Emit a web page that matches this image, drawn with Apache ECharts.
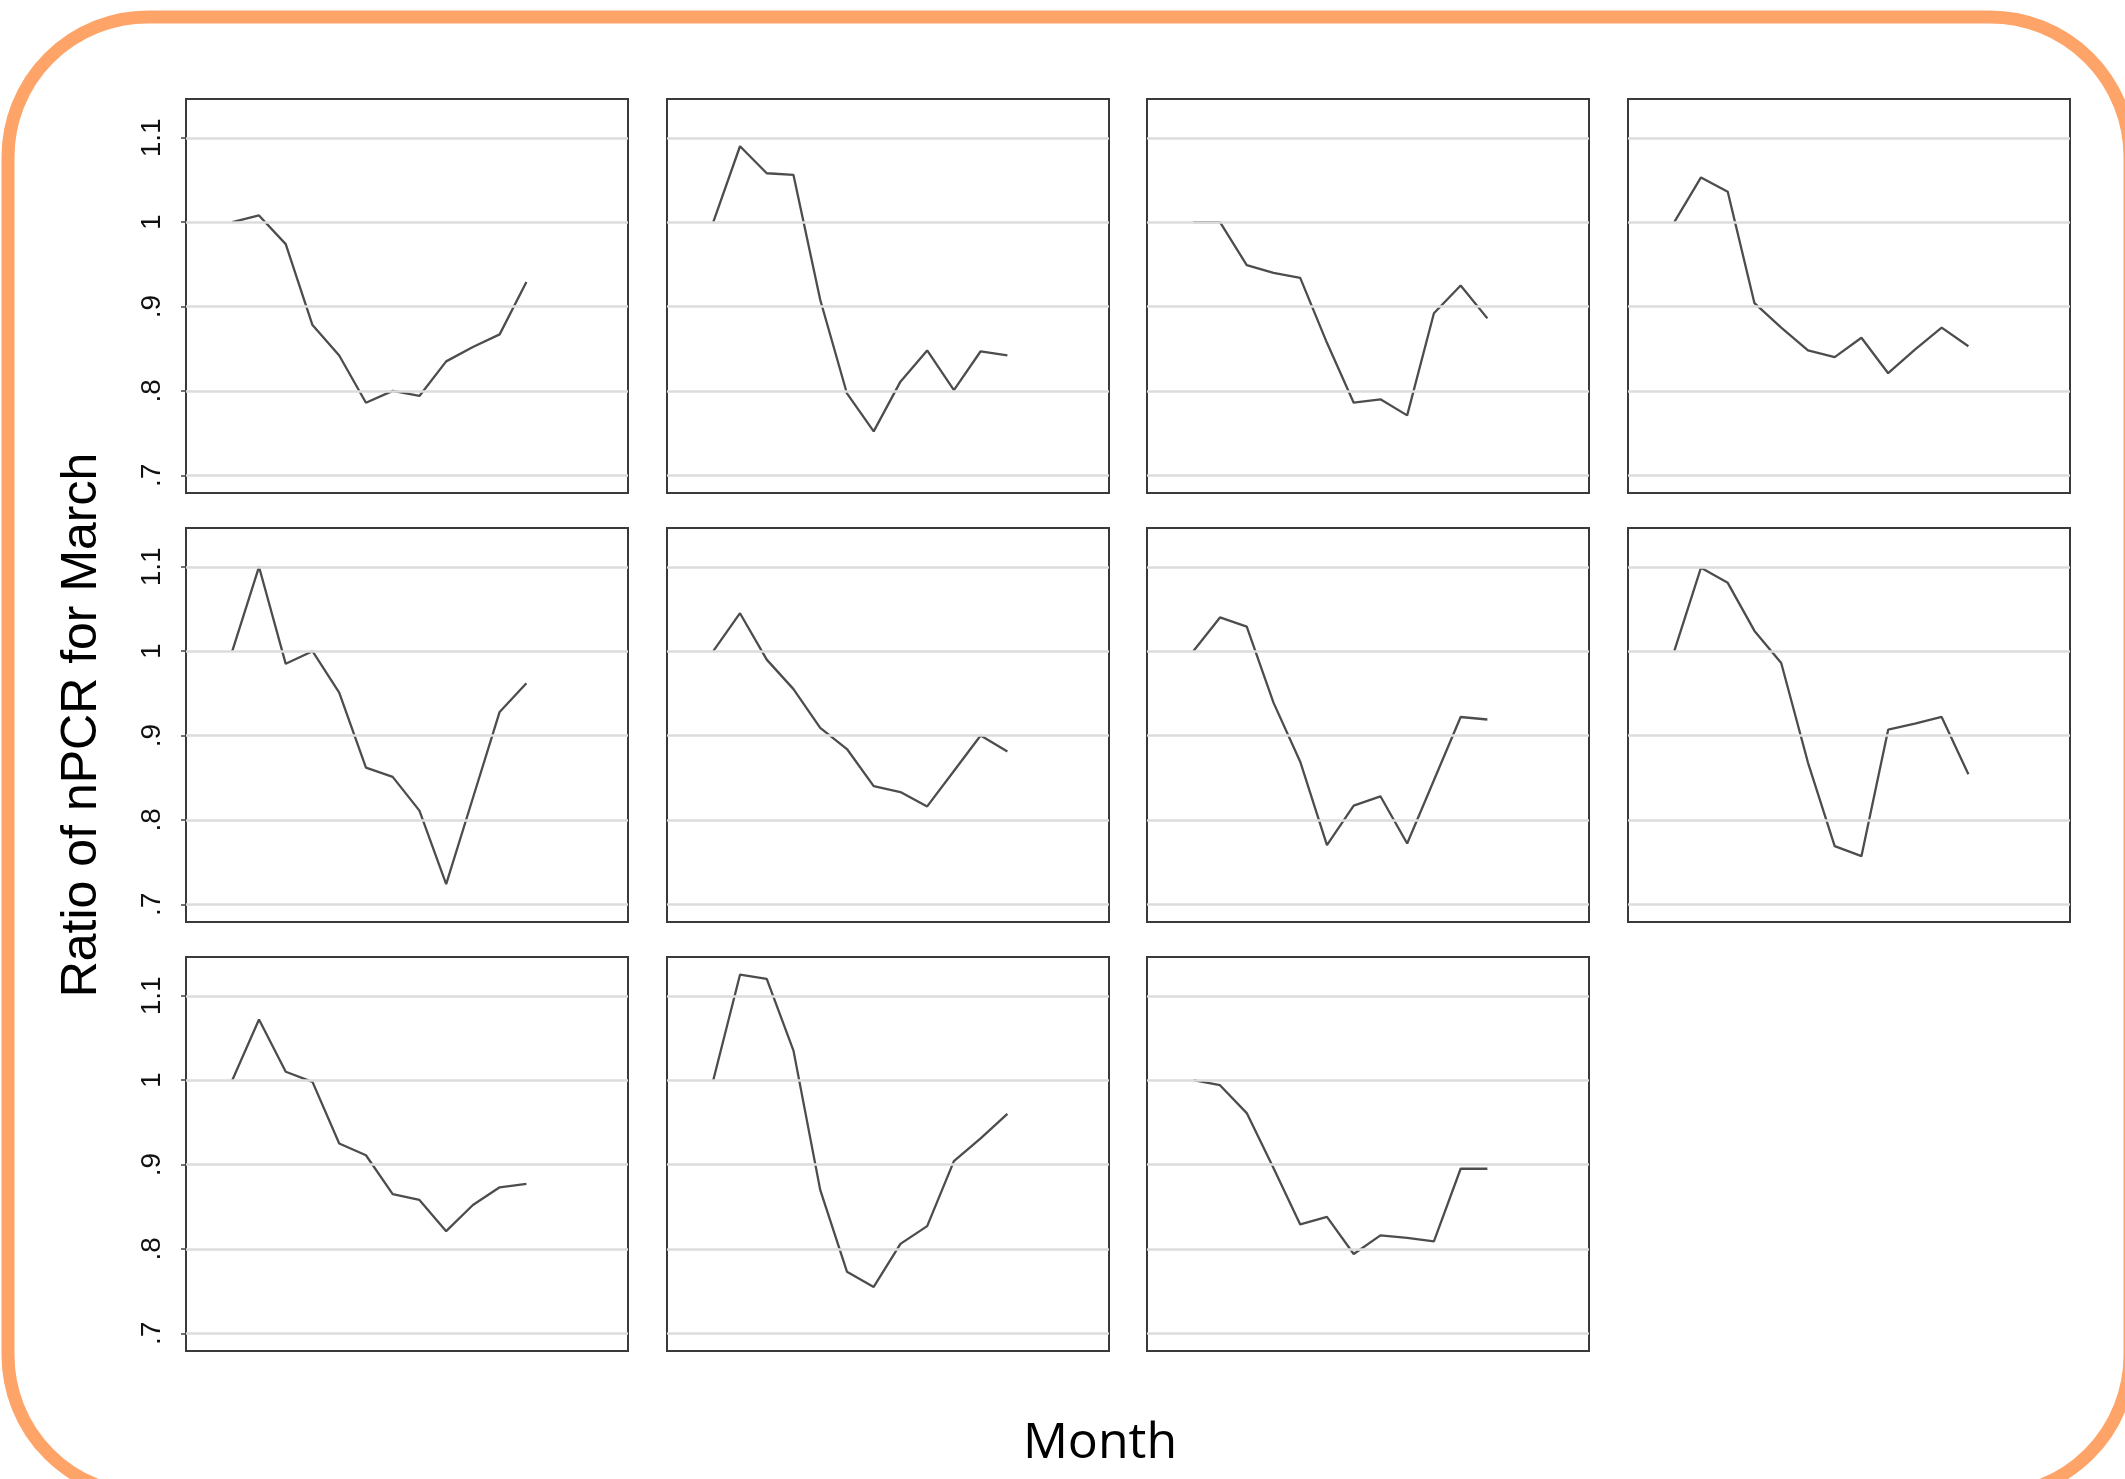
<!DOCTYPE html>
<html><head><meta charset="utf-8">
<script src="https://cdn.jsdelivr.net/npm/echarts@6.0.0/dist/echarts.min.js"></script>
<style>html,body{margin:0;padding:0;background:#fff}#c{width:2125px;height:1479px}</style>
</head><body><div id="c"></div>
<script>
// ---- data ----
const months = [3,4,5,6,7,8,9,10,11,12,13,14];
const yTicks = [0.7, 0.8, 0.9, 1.0, 1.1];
const yTickLabels = ['.7', '.8', '.9', '1', '1.1'];
const xTitle = 'Month';
const yTitle = 'Ratio of nPCR for March';

const panel1  = [1.000, 1.008, 0.974, 0.878, 0.842, 0.786, 0.800, 0.794, 0.835, 0.852, 0.867, 0.929];
const panel2  = [1.000, 1.090, 1.058, 1.056, 0.908, 0.797, 0.752, 0.811, 0.848, 0.801, 0.847, 0.842];
const panel3  = [1.000, 1.000, 0.949, 0.940, 0.934, 0.857, 0.786, 0.790, 0.771, 0.892, 0.925, 0.886];
const panel4  = [1.000, 1.053, 1.036, 0.904, 0.875, 0.848, 0.840, 0.863, 0.821, 0.849, 0.875, 0.853];
const panel5  = [1.000, 1.100, 0.985, 1.000, 0.951, 0.862, 0.851, 0.811, 0.724, 0.826, 0.928, 0.962];
const panel6  = [1.000, 1.045, 0.990, 0.955, 0.909, 0.884, 0.840, 0.833, 0.816, 0.858, 0.900, 0.881];
const panel7  = [1.000, 1.040, 1.029, 0.939, 0.869, 0.770, 0.817, 0.828, 0.772, 0.847, 0.922, 0.919];
const panel8  = [1.000, 1.099, 1.081, 1.024, 0.986, 0.868, 0.769, 0.757, 0.907, 0.914, 0.922, 0.854];
const panel9  = [1.000, 1.072, 1.010, 0.998, 0.925, 0.911, 0.865, 0.858, 0.821, 0.852, 0.873, 0.877];
const panel10 = [1.000, 1.125, 1.120, 1.035, 0.870, 0.773, 0.755, 0.806, 0.827, 0.904, 0.931, 0.960];
const panel11 = [1.000, 0.994, 0.961, 0.896, 0.829, 0.838, 0.794, 0.816, 0.813, 0.809, 0.895, 0.895];

const panels = [panel1, panel2, panel3, panel4, panel5, panel6, panel7, panel8, panel9, panel10, panel11];

// ---- layout ----
const colLeft = [186, 667, 1147, 1628];
const rowTop = [99, 528, 957];
const W = 442, H = 394;
const X_MIN = 1.27, X_MAX = 17.8;
const Y_MIN = 0.679, Y_MAX = 1.146;

const grids = [], xAxes = [], yAxes = [], series = [];
panels.forEach((vals, i) => {
  const r = Math.floor(i / 4), c = i % 4;
  grids.push({left: colLeft[c], top: rowTop[r], width: W, height: H, show: true,
    borderColor: '#3a3a3a', borderWidth: 2, backgroundColor: 'transparent', containLabel: false});
  xAxes.push({type: 'value', gridIndex: i, min: X_MIN, max: X_MAX,
    axisLine: {show: false}, axisTick: {show: false}, axisLabel: {show: false}, splitLine: {show: false}});
  const first = c === 0;
  yAxes.push({type: 'value', gridIndex: i, min: Y_MIN, max: Y_MAX,
    axisLine: {show: false}, splitLine: {show: false},
    axisTick: {show: first, length: 5, customValues: yTicks, lineStyle: {color: '#444', width: 1.5}},
    axisLabel: {show: first, customValues: yTicks, rotate: 90, margin: 20,
      fontFamily: 'Liberation Sans', fontSize: 28, color: '#111',
      formatter: v => { const k = yTicks.findIndex(t => Math.abs(t - v) < 1e-6); return k >= 0 ? yTickLabels[k] : ''; }}
  });
  const pts = vals.map((v, j) => [months[j], v]);
  series.push({type: 'line', xAxisIndex: i, yAxisIndex: i, data: pts, z: 1, silent: true,
    showSymbol: false, lineStyle: {opacity: 0},
    markLine: {silent: true, symbol: ['none', 'none'], label: {show: false}, animation: false,
      lineStyle: {color: '#dcdcdc', width: 2.5, type: 'solid'},
      emphasis: {disabled: true},
      data: yTicks.map(t => ({yAxis: t}))}});
  series.push({type: 'line', xAxisIndex: i, yAxisIndex: i, data: pts, z: 3, silent: true,
    showSymbol: false, symbol: 'none', lineStyle: {color: '#4d4d4d', width: 2.3}});
});

const chart = echarts.init(document.getElementById('c'), null, {renderer: 'canvas'});
chart.setOption({
  animation: false,
  backgroundColor: '#fff',
  grid: grids, xAxis: xAxes, yAxis: yAxes, series: series,
  graphic: [
    {type: 'rect', silent: true, z: -10,
      shape: {x: 8, y: 17, width: 2122, height: 1478, r: 140},
      style: {fill: 'none', stroke: '#FFA468', lineWidth: 13}},
    {type: 'text', silent: true, x: 82, y: 725, rotation: Math.PI / 2,
      style: {text: yTitle, fontSize: 50, fontFamily: 'Liberation Sans', fill: '#000',
        align: 'center', verticalAlign: 'middle'}},
    {type: 'text', silent: true, x: 1100, y: 1444,
      style: {text: xTitle, fontSize: 50, fontFamily: 'Open Sans', fill: '#000',
        align: 'center', verticalAlign: 'middle'}}
  ]
});
</script>
</body></html>
